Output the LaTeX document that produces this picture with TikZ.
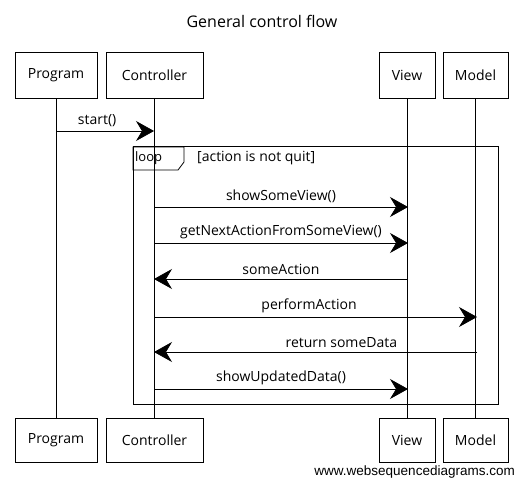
\documentclass[tikz,border=0pt]{standalone}
\usepackage{fontspec}
\setmainfont{Open Sans}
\newfontfamily\wsdfont{Liberation Sans}
\usetikzlibrary{arrows.meta}

\tikzset{
	actor/.style={draw, thick, fill=white, inner sep=0pt, minimum height=46pt, font=\fontsize{14}{16}\selectfont},
	life/.style={thin},
	msg/.style={thick, -{Stealth[length=18pt, width=20pt, inset=6pt]}},
	msglabel/.style={font=\fontsize{14}{16}\selectfont, inner sep=1pt, anchor=south}
}

\begin{document}
\begin{tikzpicture}[x=1pt, y=-1pt]
	\useasboundingbox (0,0) rectangle (524,487);
	\node[font=\fontsize{16}{18}\selectfont] (title) at (262,21) {General control flow};	%title
	% top and bottom actor boxes
	\node[actor, minimum width=82pt] (prog) at (56,75) {Program};
	\node[actor, minimum width=97pt] (ctrl) at (154.5,75) {Controller};
	\node[actor, minimum width=56pt] (view) at (407,75) {View};
	\node[actor, minimum width=65pt] (model) at (475.5,75) {Model};
	\node[actor, minimum width=82pt, minimum height=44pt] (progB) at (56,440.5) {Program};
	\node[actor, minimum width=97pt, minimum height=44pt] (ctrlB) at (154.5,440.5) {Controller};
	\node[actor, minimum width=56pt, minimum height=44pt] (viewB) at (407,440.5) {View};
	\node[actor, minimum width=65pt, minimum height=44pt] (modelB) at (475.5,440.5) {Model};
	% lifelines
	\draw[life] (prog) -- (progB);
	\draw[life] (ctrl) -- (ctrlB);
	\draw[life] (view) -- (viewB);
	\draw[life] (model) -- (modelB);
	% loop frame
	\draw[thick] (133,146) rectangle (498,404);					%frame
	\draw[thick] (133,147) -- (184,147) -- (184,162) -- (178,170) -- (133,170) -- cycle;	%tag
	\node[font=\fontsize{13}{15}\selectfont, anchor=west, inner sep=0pt] (looptag) at (135,158.5) {loop};
	\node[font=\fontsize{14}{16}\selectfont, anchor=west, inner sep=0pt] (guard) at (197,158.5) {[action is not quit]};
	% message end points
	\coordinate (p1) at (56,131);		\coordinate (c1) at (154,131);
	\coordinate (c2) at (154,207);		\coordinate (v2) at (408,207);
	\coordinate (c3) at (154,243);		\coordinate (v3) at (408,243);
	\coordinate (v4) at (408,279);		\coordinate (c4) at (154,279);
	\coordinate (c5) at (154,317);		\coordinate (m5) at (477,317);
	\coordinate (m6) at (477,352);		\coordinate (c6) at (154,352);
	\coordinate (c7) at (154,389);		\coordinate (v7) at (408,389);
	% messages
	\draw[msg] (p1) -- node[msglabel, pos=0.42, yshift=3pt] {start()} (c1);
	\draw[msg] (c2) -- node[msglabel, yshift=3pt] {showSomeView()} (v2);
	\draw[msg] (c3) -- node[msglabel, yshift=3pt] {getNextActionFromSomeView()} (v3);
	\draw[msg] (v4) -- node[msglabel, yshift=3pt] {someAction} (c4);
	\draw[msg] (c5) -- node[msglabel, pos=0.48, yshift=3pt] {performAction} (m5);
	\draw[msg] (m6) -- node[msglabel, pos=0.42, yshift=3pt] {return someData} (c6);
	\draw[msg] (c7) -- node[msglabel, pos=0.5, yshift=3pt] {showUpdatedData()} (v7);
	\node[font=\wsdfont\fontsize{13.5}{15}\selectfont, anchor=east, inner sep=0pt] (wsd) at (515,472) {www.websequencediagrams.com};	%watermark
\end{tikzpicture}
\end{document}
